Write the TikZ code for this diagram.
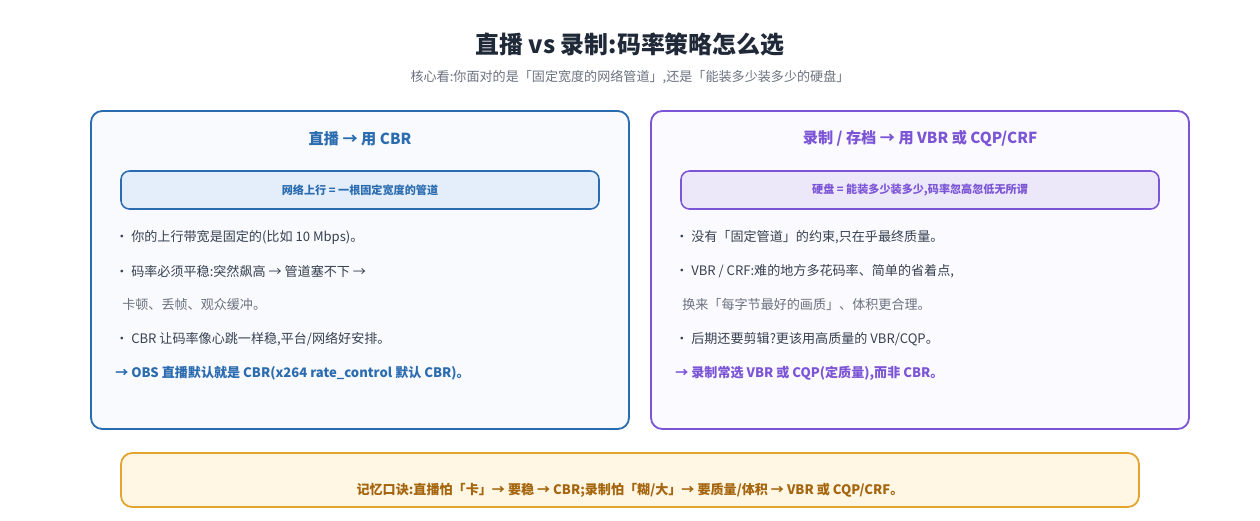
\documentclass[tikz,border=0pt]{standalone}
\usepackage{fontspec}
\setmainfont{Noto Sans CJK SC}
\usetikzlibrary{positioning}
\definecolor{ink}{HTML}{1F2937}
\definecolor{muted}{HTML}{6B7280}
\definecolor{body}{HTML}{374151}
\definecolor{liveblue}{HTML}{2B6CB0}
\definecolor{livefill}{HTML}{F8FAFD}
\definecolor{liveband}{HTML}{E3EEFA}
\definecolor{recpurple}{HTML}{7B55D6}
\definecolor{recfill}{HTML}{FBFAFE}
\definecolor{recband}{HTML}{EDE7FA}
\definecolor{memoline}{HTML}{E2A530}
\definecolor{memofill}{HTML}{FFF7E4}
\definecolor{memotext}{HTML}{A4650E}
\tikzset{
  panel/.style={draw, line width=1.3pt, rounded corners=8pt},
  band/.style={draw, line width=1.1pt, rounded corners=6pt},
  bullet/.style={anchor=west, inner sep=0pt, text=body, font=\fontsize{9.3}{11}\selectfont},
  head/.style={font=\bfseries\fontsize{10.8}{13}\selectfont},
  bandtext/.style={font=\bfseries\fontsize{7.9}{10}\selectfont}
}
\begin{document}
\begin{tikzpicture}[x=0.025cm,y=-0.025cm]
  \useasboundingbox[fill=white] (0,0) rectangle (1260,520);
  % title
  \node (title) at(630,44){\bfseries\fontsize{17}{20}\selectfont\color{ink}直播 vs 录制:码率策略怎么选};
  \node (subtitle) at(630,77){\fontsize{9.3}{11}\selectfont\color{muted}核心看:你面对的是「固定宽度的网络管道」,还是「能装多少装多少的硬盘」};
  % live panel
  \draw [panel, draw=liveblue, fill=livefill](91,111) rectangle (629,429);
  \node (livehead) [head, text=liveblue] at(360,139){直播 → 用 CBR};
  \draw [band, draw=liveblue, fill=liveband](121,171) rectangle (599,209);
  \node (liveband) [bandtext, text=liveblue] at(360,190){网络上行 = 一根固定宽度的管道};
  \node (live1) [bullet] at(115,237){· 你的上行带宽是固定的(比如 10 Mbps)。};
  \node (live2) [bullet] at(115,271){· 码率必须平稳:突然飙高 → 管道塞不下 →};
  \node (live3) [bullet, text=muted] at(122,305){卡顿、丢帧、观众缓冲。};
  \node (live4) [bullet] at(115,339){· CBR 让码率像心跳一样稳,平台/网络好安排。};
  \node (live5) [bullet, text=liveblue, font=\bfseries\fontsize{9.3}{11}\selectfont] at(115,373){→ OBS 直播默认就是 CBR(x264 rate\_control 默认 CBR)。};
  % record panel
  \draw [panel, draw=recpurple, fill=recfill](651,111) rectangle (1189,429);
  \node (rechead) [head, text=recpurple] at(920,139){录制 / 存档 → 用 VBR 或 CQP/CRF};
  \draw [band, draw=recpurple, fill=recband](681,171) rectangle (1159,209);
  \node (recband) [bandtext, text=recpurple] at(920,190){硬盘 = 能装多少装多少,码率忽高忽低无所谓};
  \node (rec1) [bullet] at(675,237){· 没有「固定管道」的约束,只在乎最终质量。};
  \node (rec2) [bullet] at(675,271){· VBR / CRF:难的地方多花码率、简单的省着点,};
  \node (rec3) [bullet, text=muted] at(682,305){换来「每字节最好的画质」、体积更合理。};
  \node (rec4) [bullet] at(675,339){· 后期还要剪辑?更该用高质量的 VBR/CQP。};
  \node (rec5) [bullet, text=recpurple, font=\bfseries\fontsize{9.3}{11}\selectfont] at(675,373){→ 录制常选 VBR 或 CQP(定质量),而非 CBR。};
  % memo
  \draw [panel, draw=memoline, fill=memofill](121,453) rectangle (1139,507);
  \node (memo) at(630,490){\bfseries\fontsize{9.3}{11}\selectfont\color{memotext}记忆口诀:直播怕「卡」→ 要稳 → CBR;录制怕「糊/大」→ 要质量/体积 → VBR 或 CQP/CRF。};
\end{tikzpicture}
\end{document}
